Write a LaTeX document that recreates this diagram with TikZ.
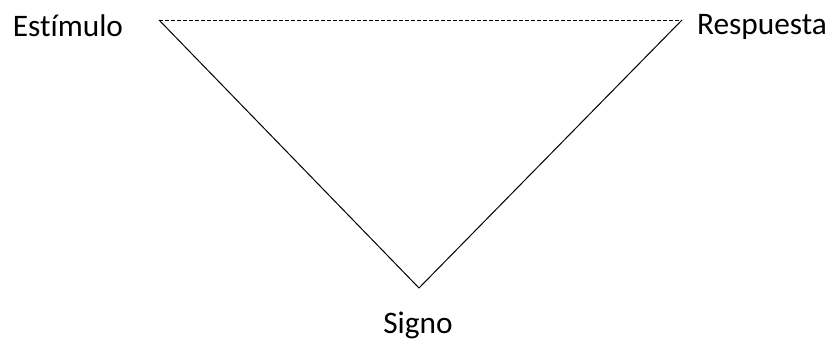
\documentclass[tikz,border=0pt]{standalone}
\usepackage{fontspec}
\setmainfont[Ligatures=NoCommon]{Carlito}
\begin{document}
\begin{tikzpicture}[x=0.75pt,y=-0.75pt,
  lbl/.style={anchor=base,inner sep=0pt,font=\fontsize{23.5}{28}\selectfont},
  edge/.style={draw=black,line width=0.75pt},
  dedge/.style={draw=black,line width=0.6pt,dash pattern=on 3pt off 1.5pt}]
\useasboundingbox[fill=white] (0,0) rectangle (832,341);
\coordinate (tl) at (159,20);
\coordinate (tr) at (682,20);
\coordinate (bt) at (419,288);
\node[lbl] (est) at (68,37) {Estímulo};
\node[lbl] (res) at (762,35) {Respuesta};
\node[lbl] (sig) at (418,334) {Signo};
\draw[dedge] (tl) -- (tr);
\draw[edge] (tl) -- (bt) -- (tr);
\end{tikzpicture}
\end{document}
